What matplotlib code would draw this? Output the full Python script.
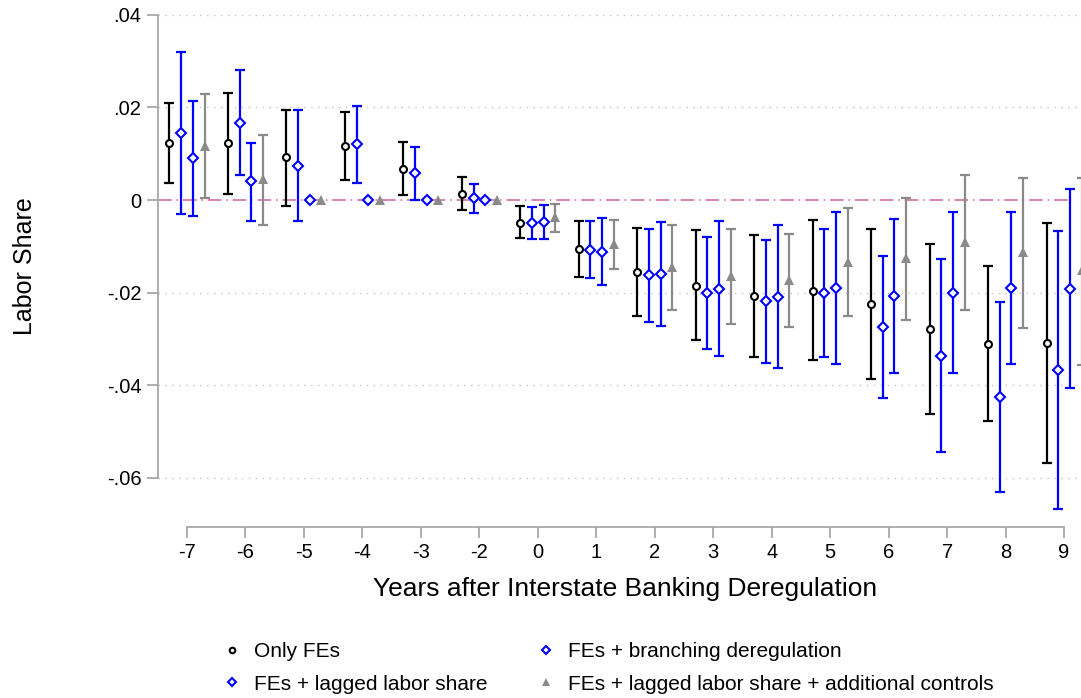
import numpy as np
import matplotlib.pyplot as plt
from matplotlib.lines import Line2D

plt.rcParams['font.family'] = ['Liberation Sans', 'DejaVu Sans']

years = [-7, -6, -5, -4, -3, -2, 0, 1, 2, 3, 4, 5, 6, 7, 8, 9]
nan = np.nan

# Only FEs
b_fe = [0.0124, 0.0123, 0.0092, 0.0117, 0.0068, 0.0014, -0.0049, -0.0106,
        -0.0156, -0.0185, -0.0207, -0.0196, -0.0225, -0.0278, -0.0311, -0.0309]
lo_fe = [0.0037, 0.0014, -0.0012, 0.0043, 0.0011, -0.0022, -0.0083, -0.0167,
         -0.0251, -0.0303, -0.0339, -0.0347, -0.0387, -0.0462, -0.0478, -0.0569]
hi_fe = [0.0210, 0.0232, 0.0195, 0.0190, 0.0126, 0.0050, -0.0014, -0.0045,
         -0.0061, -0.0065, -0.0076, -0.0044, -0.0063, -0.0095, -0.0142, -0.0050]

# FEs + branching deregulation
b_br = [0.0144, 0.0167, 0.0074, 0.0120, 0.0058, 0.0004, -0.0050, -0.0108,
        -0.0163, -0.0202, -0.0219, -0.0201, -0.0275, -0.0337, -0.0426, -0.0368]
lo_br = [-0.0031, 0.0053, -0.0046, 0.0037, 0.0000, -0.0028, -0.0085, -0.0169,
         -0.0263, -0.0322, -0.0352, -0.0339, -0.0429, -0.0545, -0.0631, -0.0668]
hi_br = [0.0319, 0.0280, 0.0194, 0.0203, 0.0114, 0.0035, -0.0015, -0.0045,
         -0.0063, -0.0080, -0.0086, -0.0063, -0.0121, -0.0127, -0.0221, -0.0066]

# FEs + lagged labor share
b_lag = [0.0090, 0.0040, 0, 0, 0, 0, -0.0048, -0.0112,
         -0.0160, -0.0192, -0.0209, -0.0191, -0.0207, -0.0201, -0.0191, -0.0192]
lo_lag = [-0.0034, -0.0045, nan, nan, nan, nan, -0.0085, -0.0183,
          -0.0273, -0.0337, -0.0364, -0.0355, -0.0374, -0.0375, -0.0355, -0.0406]
hi_lag = [0.0214, 0.0124, nan, nan, nan, nan, -0.0011, -0.0039,
          -0.0047, -0.0045, -0.0053, -0.0025, -0.0042, -0.0027, -0.0025, 0.0023]

# FEs + lagged labor share + additional controls
b_ctl = [0.0117, 0.0045, 0, 0, 0, 0, -0.0037, -0.0095,
         -0.0144, -0.0164, -0.0173, -0.0133, -0.0126, -0.0091, -0.0113, -0.0151]
lo_ctl = [0.0005, -0.0053, nan, nan, nan, nan, -0.0070, -0.0150,
          -0.0237, -0.0269, -0.0275, -0.0250, -0.0259, -0.0237, -0.0276, -0.0356]
hi_ctl = [0.0229, 0.0140, nan, nan, nan, nan, -0.0008, -0.0043,
          -0.0055, -0.0062, -0.0073, -0.0018, 0.0005, 0.0053, 0.0048, 0.0048]

labels = ['Only FEs', 'FEs + branching deregulation', 'FEs + lagged labor share',
          'FEs + lagged labor share + additional controls']

BLUE = '#0000ff'
GRAY = '#8a8a8a'
AXC = '#a8a8a8'

series = [
    (b_fe, lo_fe, hi_fe, -0.3, 'black', dict(marker='o', ms=5, mfc='white', mew=1.5)),
    (b_br, lo_br, hi_br, -0.1, BLUE, dict(marker='D', ms=5.5, mfc='white', mew=1.5)),
    (b_lag, lo_lag, hi_lag, 0.1, BLUE, dict(marker='D', ms=5.5, mfc='white', mew=1.5)),
    (b_ctl, lo_ctl, hi_ctl, 0.3, GRAY, dict(marker='^', ms=7, mfc=GRAY, mew=0)),
]

W, H = 1081, 698
fig = plt.figure(figsize=(W / 100, H / 100), dpi=100)
ax = fig.add_axes([158 / W, 1 - 516 / H, 1 - 158 / W, (516 - 13) / H])

pos = np.arange(len(years))
xl = ((158 - 187) / 58.47, (1081 - 187) / 58.47)

for b, lo, hi, off, col, mk in series:
    b = np.array(b)
    lo = np.array(lo)
    hi = np.array(hi)
    yerr = np.vstack([b - lo, hi - b])
    ax.errorbar(pos + off, b, yerr=yerr, fmt='none', ecolor=col, elinewidth=1.6,
                capsize=3.8, capthick=1.6, zorder=3, clip_on=True)
    ax.plot(pos + off, b, linestyle='none', color=col, mec=col, zorder=4, **mk)

ax.plot([xl[0], 15.1], [0, 0], color='#d982b6', lw=1.4,
        linestyle=(0, (7, 2.5, 0.8, 2.5)), zorder=2)

ax.set_xlim(*xl)
ax.set_ylim(-0.06832, 0.04043)

yt = [0.04, 0.02, 0, -0.02, -0.04, -0.06]
ax.set_yticks(yt)
ax.set_yticklabels(['.04', '.02', '0', '-.02', '-.04', '-.06'])
ax.set_xticks(pos)
ax.set_xticklabels([str(y) for y in years])

for g in [0.04, 0.02, -0.02, -0.04, -0.06]:
    ax.axhline(g, color='#c4c4c4', lw=1, linestyle=(0, (1, 4)), zorder=1)

for s in ['top', 'right']:
    ax.spines[s].set_visible(False)
ax.spines['left'].set_bounds(-0.06, 0.04)
ax.spines['bottom'].set_bounds(0, 15)
ax.spines['bottom'].set_position(('outward', 8))
for s in ['left', 'bottom']:
    ax.spines[s].set_color(AXC)
    ax.spines[s].set_linewidth(1.3)
ax.tick_params(axis='both', colors=AXC, length=7.6, width=1.3, labelcolor='black',
               labelsize=14.5)
ax.tick_params(axis='y', pad=4.3)
ax.tick_params(axis='x', pad=3.8)

fig.text(25 / W, 1 - 266 / H, 'Labor Share', rotation=90, ha='center', va='center',
         fontsize=18)
fig.text(625 / W, 1 - 589 / H, 'Years after Interstate Banking Deregulation',
         ha='center', va='center', fontsize=19)

handles = [Line2D([], [], linestyle='none', color=c, mec=c, **dict(m, ms=m['ms'] * 0.8))
           for _, _, _, _, c, m in series]
order = [0, 2, 1, 3]
fig.legend([handles[i] for i in order], [labels[i] for i in order], ncol=2,
           loc='upper left', bbox_to_anchor=(222 / W, 1 - 642 / H), frameon=False,
           fontsize=15, handlelength=1.0, handletextpad=0.55, columnspacing=2.3,
           labelspacing=0.65, borderaxespad=0, borderpad=0)

fig.savefig('out.png', dpi=100)
